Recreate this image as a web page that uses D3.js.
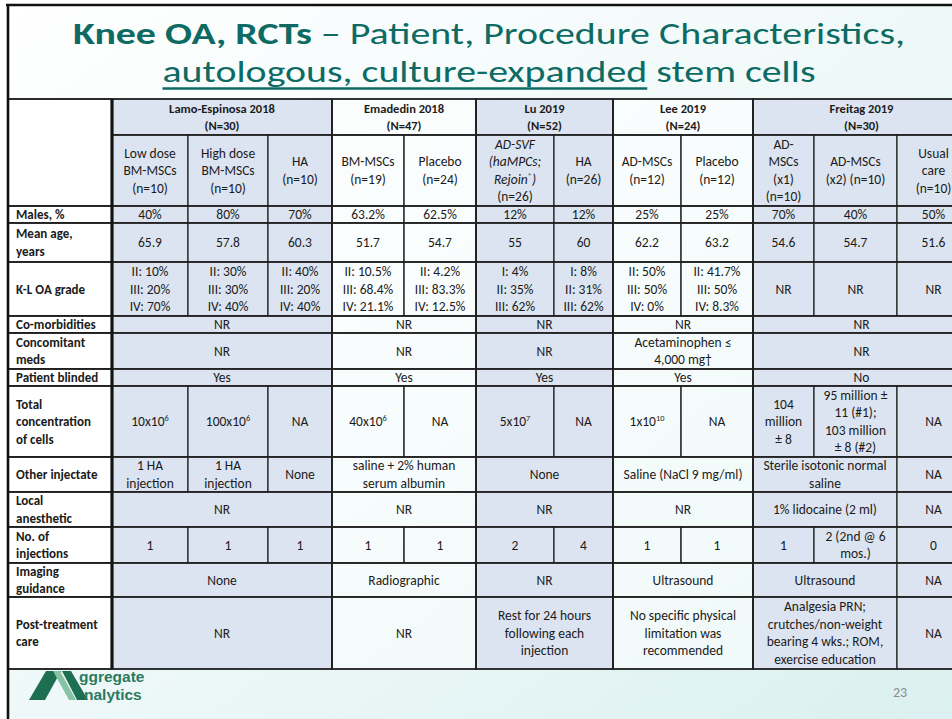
<!DOCTYPE html>
<html>
<head>
<meta charset="utf-8">
<script src="https://cdn.jsdelivr.net/npm/d3@7"></script>
<style>
  html, body { margin: 0; padding: 0; background: #fff; }
  svg { display: block; }
</style>
</head>
<body>
<div id="slide"></div>
<script>

// ---- table content ----
var studyNames = ["Lamo-Espinosa 2018", "Emadedin 2018", "Lu 2019", "Lee 2019", "Freitag 2019"];
var studySizes = ["(N=30)", "(N=47)", "(N=52)", "(N=24)", "(N=30)"];
var armsPerStudy = [3, 2, 2, 2, 3];

// "\n" = line break, "_" at line start = italic, ^{..} = superscript
var armLabels = [
  "Low dose\nBM-MSCs\n(n=10)", "High dose\nBM-MSCs\n(n=10)", "HA\n(n=10)",
  "BM-MSCs\n(n=19)", "Placebo\n(n=24)",
  "_AD-SVF\n_(haMPCs;\n_Rejoin^{®})\n(n=26)", "HA\n(n=26)",
  "AD-MSCs\n(n=12)", "Placebo\n(n=12)",
  "AD-\nMSCs\n(x1)\n(n=10)", "AD-MSCs\n(x2) (n=10)", "Usual\ncare\n(n=10)"
];

var rowLabels = [
  "Males, %", "Mean age,\nyears", "K-L OA grade", "Co-morbidities", "Concomitant\nmeds",
  "Patient blinded", "Total\nconcentration\nof cells", "Other injectate", "Local\nanesthetic",
  "No. of\ninjections", "Imaging\nguidance", "Post-treatment\ncare"
];

// a plain string fills one arm column, [text, span] spans several
var males = ["40%", "80%", "70%", "63.2%", "62.5%", "12%", "12%", "25%", "25%", "70%", "40%", "50%"];
var meanAge = ["65.9", "57.8", "60.3", "51.7", "54.7", "55", "60", "62.2", "63.2", "54.6", "54.7", "51.6"];
var klGrade = [
  "II: 10%\nIII: 20%\nIV: 70%", "II: 30%\nIII: 30%\nIV: 40%", "II: 40%\nIII: 20%\nIV: 40%",
  "II: 10.5%\nIII: 68.4%\nIV: 21.1%", "II: 4.2%\nIII: 83.3%\nIV: 12.5%",
  "I: 4%\nII: 35%\nIII: 62%", "I: 8%\nII: 31%\nIII: 62%",
  "II: 50%\nIII: 50%\nIV: 0%", "II: 41.7%\nIII: 50%\nIV: 8.3%",
  "NR", "NR", "NR"
];
var comorbidities = [["NR", 3], ["NR", 2], ["NR", 2], ["NR", 2], ["NR", 3]];
var concomitantMeds = [["NR", 3], ["NR", 2], ["NR", 2], ["Acetaminophen ≤\n4,000 mg†", 2], ["NR", 3]];
var patientBlinded = [["Yes", 3], ["Yes", 2], ["Yes", 2], ["Yes", 2], ["No", 3]];
var cellConcentration = [
  "10x10^{6}", "100x10^{6}", "NA", "40x10^{6}", "NA", "5x10^{7}", "NA", "1x10^{10}", "NA",
  "104\nmillion\n± 8", "95 million ±\n11 (#1);\n103 million\n± 8 (#2)", "NA"
];
var otherInjectate = [
  "1 HA\ninjection", "1 HA\ninjection", "None", ["saline + 2% human\nserum albumin", 2],
  ["None", 2], ["Saline (NaCl 9 mg/ml)", 2], ["Sterile isotonic normal\nsaline", 2], "NA"
];
var localAnesthetic = [["NR", 3], ["NR", 2], ["NR", 2], ["NR", 2], ["1% lidocaine (2 ml)", 2], "NA"];
var injections = ["1", "1", "1", "1", "1", "2", "4", "1", "1", "1", "2 (2nd @ 6\nmos.)", "0"];
var imagingGuidance = [["None", 3], ["Radiographic", 2], ["NR", 2], ["Ultrasound", 2], ["Ultrasound", 2], "NA"];
var postTreatment = [
  ["NR", 3], ["NR", 2], ["Rest for 24 hours\nfollowing each\ninjection", 2],
  ["No specific physical\nlimitation was\nrecommended", 2],
  ["Analgesia PRN;\ncrutches/non-weight\nbearing 4 wks.; ROM,\nexercise education", 2], "NA"
];

var bodyRows = [males, meanAge, klGrade, comorbidities, concomitantMeds, patientBlinded,
  cellConcentration, otherInjectate, localAnesthetic, injections, imagingGuidance, postTreatment];

// ---- layout ----
var width = 952, height = 719;
var fontFamily = "Carlito, Lato, 'Open Sans', sans-serif";
var lineHeight = 17.5;
var headerSize = 12.5, bodySize = 13.5, labelSize = 13;
var labelLeft = 8, labelRight = 112;

var colEdges = [112, 188, 268, 332, 404, 476, 554, 613, 681, 753, 814, 897, 970];
var rowEdges = [99, 135, 206, 223, 262, 316, 333, 369, 386, 457, 492, 527, 563, 597, 669];

var xCol = d3.scaleLinear().domain(d3.range(colEdges.length)).range(colEdges);
var yRow = d3.scaleLinear().domain(d3.range(rowEdges.length)).range(rowEdges);

var groupStart = Array.from(d3.cumsum([0].concat(armsPerStudy)));
function groupOf(col) { return d3.bisectRight(groupStart, col) - 1; }

var blueFill = "#dbe4f0";
var lightFill = "rgba(255,255,255,0.5)";
function fillOf(col) { return groupOf(col) % 2 === 0 ? blueFill : lightFill; }

var svg = d3.select("#slide").append("svg")
    .attr("width", width)
    .attr("height", height);

var defs = svg.append("defs");
var grad = defs.append("linearGradient")
    .attr("id", "bg")
    .attr("x1", 0).attr("y1", 0).attr("x2", 1).attr("y2", 1);
grad.append("stop").attr("offset", 0).attr("stop-color", "#ffffff");
grad.append("stop").attr("offset", 0.4).attr("stop-color", "#f3fafa");
grad.append("stop").attr("offset", 1).attr("stop-color", "#dbf0f0");

svg.append("rect").attr("width", width).attr("height", height).attr("fill", "#fff");
svg.append("rect")
    .attr("x", 7).attr("y", 5)
    .attr("width", width - 7).attr("height", height - 5)
    .attr("fill", "url(#bg)");

// ---- title ----
var title1 = svg.append("text")
    .attr("x", 489).attr("y", 44)
    .attr("text-anchor", "middle")
    .attr("font-family", fontFamily)
    .attr("font-size", 31)
    .attr("fill", "#0d6b63")
    .attr("textLength", 832)
    .attr("lengthAdjust", "spacingAndGlyphs");
title1.append("tspan").attr("font-weight", "bold").text("Knee OA, RCTs");
title1.append("tspan").text(" – Patient, Procedure Characteristics,");

var underlined = "autologous, culture-expanded";
var title2 = svg.append("text")
    .attr("x", 489).attr("y", 82)
    .attr("text-anchor", "middle")
    .attr("font-family", fontFamily)
    .attr("font-size", 31)
    .attr("fill", "#0d6b63")
    .attr("textLength", 653)
    .attr("lengthAdjust", "spacingAndGlyphs");
title2.append("tspan").text(underlined);
title2.append("tspan").text(" stem cells");

var ulStart = title2.node().getStartPositionOfChar(0).x;
var ulEnd = title2.node().getEndPositionOfChar(underlined.length - 1).x;
svg.append("line")
    .attr("x1", ulStart).attr("x2", ulEnd)
    .attr("y1", 88.5).attr("y2", 88.5)
    .attr("stroke", "#0d6b63")
    .attr("stroke-width", 2.5);

// ---- text helpers ----
function richLine(parent, line, x, y, anchor, bold, size) {
  var italic = line.charAt(0) === "_";
  if (italic) line = line.slice(1);
  var t = parent.append("text")
      .attr("x", x).attr("y", y)
      .attr("text-anchor", anchor)
      .attr("font-family", fontFamily)
      .attr("font-size", size)
      .attr("font-weight", bold ? "bold" : "normal")
      .attr("font-style", italic ? "italic" : "normal")
      .attr("fill", "#1b1b1b");
  line.split(/\^\{([^}]*)\}/).forEach(function(part, i) {
    if (!part) return;
    var s = t.append("tspan").text(part);
    if (i % 2 === 1) s.attr("baseline-shift", "super").attr("font-size", "0.62em");
  });
}

function cellText(parent, text, x, y0, y1, anchor, bold, size) {
  var lines = text.split("\n");
  var cy = (y0 + y1) / 2;
  var first = cy - (lines.length - 1) * lineHeight / 2 + size * 0.35;
  lines.forEach(function(line, i) {
    richLine(parent, line, x, first + i * lineHeight, anchor, bold, size);
  });
}

// ---- build cell list ----
var cells = [];

// header row 1: study names
studyNames.forEach(function(name, i) {
  cells.push({ col: groupStart[i], span: armsPerStudy[i], r0: 0, r1: 1,
    text: name + "\n" + studySizes[i], bold: true, size: headerSize });
});
// header row 2: arms
armLabels.forEach(function(label, i) {
  cells.push({ col: i, span: 1, r0: 1, r1: 2, text: label, bold: false, size: bodySize });
});
// body rows
bodyRows.forEach(function(row, r) {
  var col = 0;
  row.forEach(function(c) {
    var text = Array.isArray(c) ? c[0] : c;
    var span = Array.isArray(c) ? c[1] : 1;
    cells.push({ col: col, span: span, r0: r + 2, r1: r + 3, text: text, bold: false, size: bodySize });
    col += span;
  });
});

var table = svg.append("g").attr("class", "table");

// label column cells
var labelCells = [{ r0: 0, r1: 2, text: "" }].concat(rowLabels.map(function(l, i) {
  return { r0: i + 2, r1: i + 3, text: l };
}));

table.selectAll(".label-cell")
  .data(labelCells)
  .enter().append("rect")
    .attr("class", "label-cell")
    .attr("x", labelLeft)
    .attr("y", function(d) { return yRow(d.r0); })
    .attr("width", labelRight - labelLeft)
    .attr("height", function(d) { return yRow(d.r1) - yRow(d.r0); })
    .attr("fill", "#ffffff")
    .attr("stroke", "#1e1e1e")
    .attr("stroke-width", 1.5);

table.selectAll(".cell")
  .data(cells)
  .enter().append("rect")
    .attr("class", "cell")
    .attr("x", function(d) { return xCol(d.col); })
    .attr("y", function(d) { return yRow(d.r0); })
    .attr("width", function(d) { return xCol(d.col + d.span) - xCol(d.col); })
    .attr("height", function(d) { return yRow(d.r1) - yRow(d.r0); })
    .attr("fill", function(d) { return fillOf(d.col); })
    .attr("stroke", "#1e1e1e")
    .attr("stroke-width", 1.2);

// heavier group dividers and the double rule after the label column
table.selectAll(".group-line")
  .data(groupStart.slice(1, -1))
  .enter().append("line")
    .attr("class", "group-line")
    .attr("x1", function(d) { return xCol(d); })
    .attr("x2", function(d) { return xCol(d); })
    .attr("y1", yRow(0)).attr("y2", yRow(rowEdges.length - 1))
    .attr("stroke", "#1e1e1e")
    .attr("stroke-width", 1.8);

table.selectAll(".row-line")
  .data(d3.range(1, rowEdges.length))
  .enter().append("line")
    .attr("class", "row-line")
    .attr("x1", function(d) { return d === 1 ? labelRight : labelLeft; })
    .attr("x2", width)
    .attr("y1", function(d) { return yRow(d); })
    .attr("y2", function(d) { return yRow(d); })
    .attr("stroke", "#1e1e1e")
    .attr("stroke-width", 1.6);

table.append("line")
    .attr("x1", labelLeft).attr("x2", width)
    .attr("y1", yRow(0)).attr("y2", yRow(0))
    .attr("stroke", "#1e1e1e").attr("stroke-width", 1.6);

table.append("line")
    .attr("x1", labelRight).attr("x2", labelRight)
    .attr("y1", yRow(0)).attr("y2", yRow(rowEdges.length - 1))
    .attr("stroke", "#141414")
    .attr("stroke-width", 3.2);

// texts
var textG = svg.append("g").attr("class", "cell-text");
cells.forEach(function(d) {
  cellText(textG, d.text, (xCol(d.col) + xCol(d.col + d.span)) / 2,
    yRow(d.r0), yRow(d.r1), "middle", d.bold, d.size);
});
labelCells.forEach(function(d) {
  if (d.text) cellText(textG, d.text, 16, yRow(d.r0), yRow(d.r1), "start", true, labelSize);
});

// ---- slide frame ----
svg.append("line")
    .attr("x1", 6).attr("x2", width).attr("y1", 5).attr("y2", 5)
    .attr("stroke", "#111").attr("stroke-width", 2.4);
svg.append("line")
    .attr("x1", 8).attr("x2", 8).attr("y1", 4).attr("y2", height)
    .attr("stroke", "#111").attr("stroke-width", 2.6);

// ---- logo and page number ----
var logo = svg.append("g").attr("class", "logo");
logo.append("path")
    .attr("d", "M29,700 L45,700 L61,671 L46,671 Z")
    .attr("fill", "#1e6e52");
logo.append("path")
    .attr("d", "M53,671 L60,671 L76,700 L69,700 Z")
    .attr("fill", "#86c3a5");
logo.append("path")
    .attr("d", "M62,671 L71,671 L88,700 L77,700 Z")
    .attr("fill", "#1e6e52");
logo.append("text")
    .attr("x", 79).attr("y", 682)
    .attr("font-family", "'Liberation Sans', Arial, sans-serif")
    .attr("font-weight", "bold")
    .attr("font-size", 15.5)
    .attr("fill", "#2b7a5e")
    .text("ggregate");
logo.append("text")
    .attr("x", 84).attr("y", 700)
    .attr("font-family", "'Liberation Sans', Arial, sans-serif")
    .attr("font-weight", "bold")
    .attr("font-size", 15.5)
    .attr("fill", "#2b7a5e")
    .text("nalytics");

svg.append("text")
    .attr("x", 900).attr("y", 697)
    .attr("text-anchor", "middle")
    .attr("font-family", fontFamily)
    .attr("font-size", 14)
    .attr("fill", "#8a8a8a")
    .text("23");

</script>
</body>
</html>
